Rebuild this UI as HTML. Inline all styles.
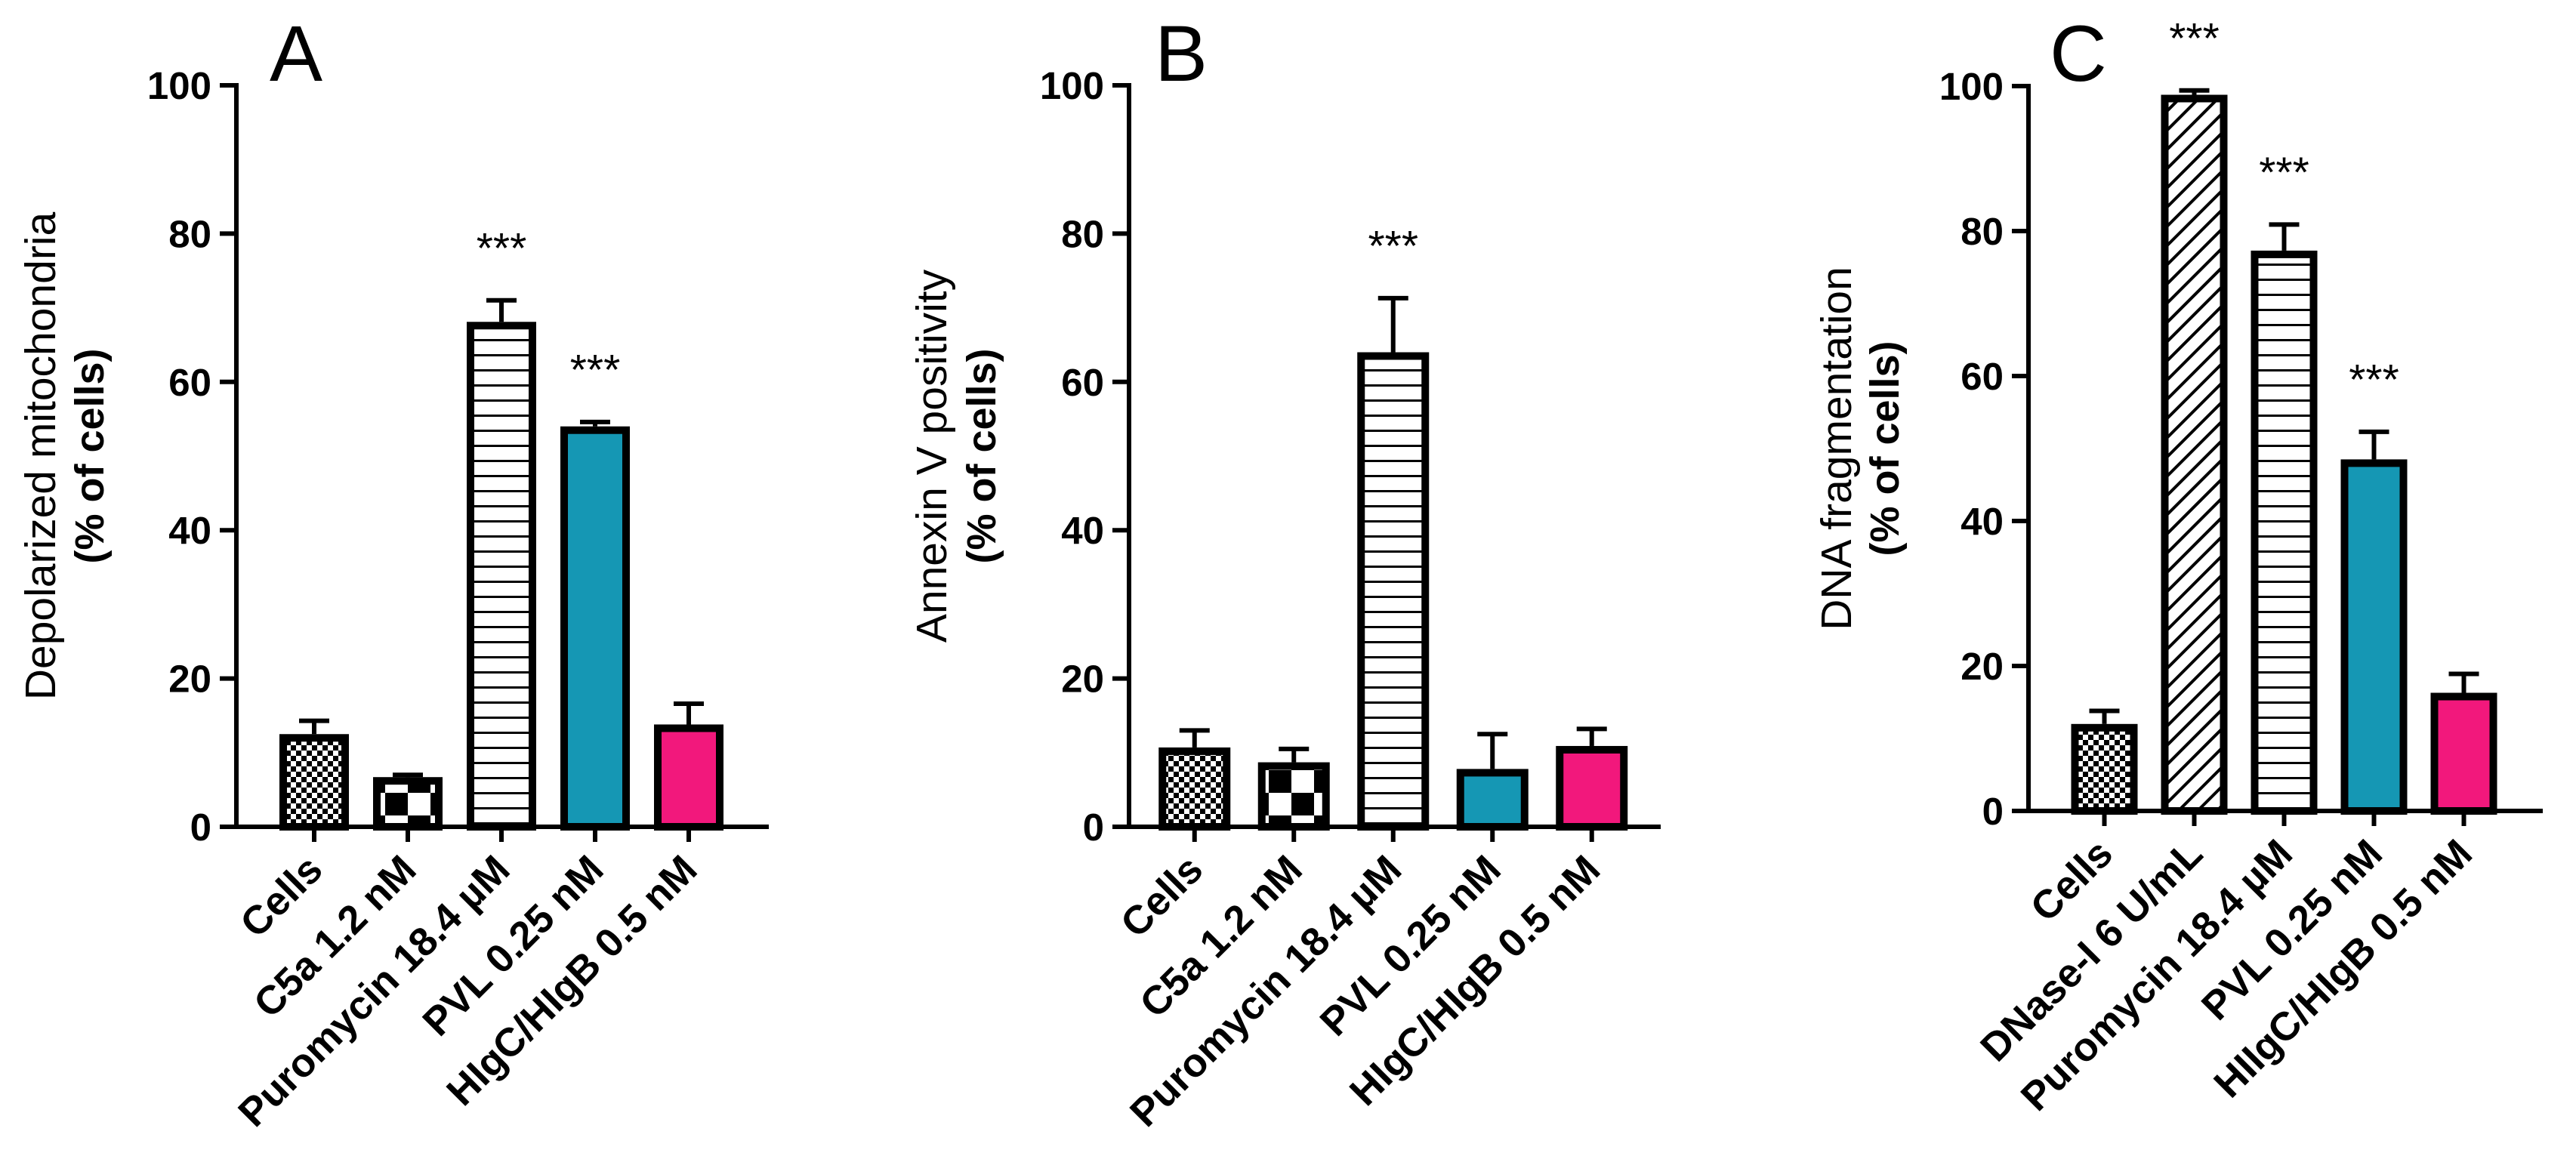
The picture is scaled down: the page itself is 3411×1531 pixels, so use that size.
<!DOCTYPE html>
<html><head><meta charset="utf-8"><style>
html,body{margin:0;padding:0;background:#fff;}
svg{display:block;font-family:"Liberation Sans",Arial,sans-serif;}
</style></head><body>
<svg id="fig" width="3411" height="1531" viewBox="0 0 3411 1531" xmlns="http://www.w3.org/2000/svg">
<defs>
<pattern id="pFine" width="14" height="14" patternUnits="userSpaceOnUse"><rect width="14" height="14" fill="#fff"/><rect width="7" height="7" fill="#000"/><rect x="7" y="7" width="7" height="7" fill="#000"/></pattern>
<pattern id="pCoarse" width="60" height="60" patternUnits="userSpaceOnUse"><rect width="60" height="60" fill="#fff"/><rect width="30" height="30" fill="#000"/><rect x="30" y="30" width="30" height="30" fill="#000"/></pattern>
<pattern id="pHoriz" width="20" height="20" patternUnits="userSpaceOnUse"><rect width="20" height="20" fill="#fff"/><rect y="9" width="20" height="3" fill="#000"/></pattern>
<pattern id="pDiag" width="18" height="18" patternUnits="userSpaceOnUse" patternTransform="rotate(-45)"><rect width="18" height="18" fill="#fff"/><rect y="7" width="18" height="4" fill="#000"/></pattern>
</defs>
</svg>
<script>
// Panel A data
const catsA = ["Cells","C5a 1.2 nM","Puromycin 18.4 µM","PVL 0.25 nM","HIgC/HIgB 0.5 nM"];
const valsA = [12.5, 6.7, 68.1, 54.0, 13.8];
const errsA = [1.8, 0.3, 2.9, 0.6, 2.8];
const starsA = ["", "", "***", "***", ""];
// Panel B data
const catsB = ["Cells","C5a 1.2 nM","Puromycin 18.4 µM","PVL 0.25 nM","HIgC/HIgB 0.5 nM"];
const valsB = [10.7, 8.7, 64.0, 7.8, 10.9];
const errsB = [2.3, 1.8, 7.3, 4.7, 2.3];
const starsB = ["", "", "***", "", ""];
// Panel C data
const catsC = ["Cells","DNase-I 6 U/mL","Puromycin 18.4 µM","PVL 0.25 nM","HIIgC/HIgB 0.5 nM"];
const valsC = [12.0, 98.8, 77.3, 48.5, 16.3];
const errsC = [1.8, 0.6, 3.6, 3.8, 2.6];
const starsC = ["", "***", "***", "***", ""];
const yTicks = [0, 20, 40, 60, 80, 100];

const NS = "http://www.w3.org/2000/svg";
const svg = document.getElementById("fig");
function mk(tag, attrs, parent, txt) {
  const e = document.createElementNS(NS, tag);
  for (const k in attrs) e.setAttribute(k, attrs[k]);
  if (txt !== undefined) e.textContent = txt;
  (parent || svg).appendChild(e);
  return e;
}

function panel(cfg) {
  const g = mk("g", {});
  
  
  const y = v => cfg.y0 - (v / 100) * (cfg.y0 - cfg.y100);
  const x = i => cfg.x0 + (i + 0.5) * cfg.step;
  const ya = mk("line", {x1: cfg.ax, y1: y(100) - 3, x2: cfg.ax, y2: cfg.y0 + 3, stroke: "#000", "stroke-width": 6}, g);
  
  
  const xa = mk("line", {x1: cfg.ax - 22, y1: cfg.y0, x2: cfg.axEnd, y2: cfg.y0, stroke: "#000", "stroke-width": 6}, g);
  
  
  yTicks.forEach(t => {
    if (t > 0) mk("line", {x1: cfg.ax - 22, y1: y(t), x2: cfg.ax, y2: y(t), stroke: "#000", "stroke-width": 6}, g);
    const tl = mk("text", {x: cfg.ax - 33, y: y(t) + 18, "text-anchor": "end", "font-size": 51, "font-weight": "bold"}, g, String(t));
    
    
  });
  const tt = mk("text", {transform: `translate(${cfg.tx1},${cfg.ty}) rotate(-90)`, "text-anchor": "middle", "font-size": 57}, g, cfg.title);
  
  
  const tt2 = mk("text", {transform: `translate(${cfg.tx2},${cfg.ty}) rotate(-90)`, "text-anchor": "middle", "font-size": 54, "font-weight": "bold"}, g, "(% of cells)");
  
  
  const lt = mk("text", {x: cfg.lx, y: 107, "font-size": 105}, g, cfg.letter);
  
  
  cfg.cats.forEach((c, i) => {
    const cx = x(i), v = cfg.vals[i], e = cfg.errs[i];
    const bw = cfg.bw;
    const eb = mk("line", {x1: cx, y1: y(v), x2: cx, y2: y(v + e), stroke: "#000", "stroke-width": 6}, g);
    
    
    const ec = mk("line", {x1: cx - 20, y1: y(v + e), x2: cx + 20, y2: y(v + e), stroke: "#000", "stroke-width": 6}, g);
    
    
    const r = mk("rect", {x: cx - bw / 2 + 5, y: y(v) + 5, width: bw - 10, height: Math.max(0, y(0) - y(v) - 5), fill: cfg.fills[i], stroke: "#000", "stroke-width": 10}, g);
    
    
    mk("line", {x1: cx, y1: cfg.y0, x2: cx, y2: cfg.y0 + 20, stroke: "#000", "stroke-width": 6}, g);
    const xl = mk("text", {transform: `translate(${cx + 14},${cfg.y0 + 60}) rotate(-45)`, "text-anchor": "end", "font-size": 53, "font-weight": "bold"}, g, c);
    
    
    if (cfg.stars[i]) {
      const st = mk("text", {x: cx, y: y(v + e) - 50, "text-anchor": "middle", "font-size": 57}, g, cfg.stars[i]);
      
      
    }
  });
}

const fillsA = ["url(#pFine)", "url(#pCoarse)", "url(#pHoriz)", "#1597b4", "#f2187c"];
const fillsC = ["url(#pFine)", "url(#pDiag)", "url(#pHoriz)", "#1597b4", "#f2187c"];
panel({letter: "A", cats: catsA, vals: valsA, errs: errsA, stars: starsA, fills: fillsA,
  ax: 313, axEnd: 1018, y0: 1095, y100: 113, x0: 354, step: 124, bw: 92,
  title: "Depolarized mitochondria", tx1: 73, tx2: 137, ty: 604, lx: 357});
panel({letter: "B", cats: catsB, vals: valsB, errs: errsB, stars: starsB, fills: fillsA,
  ax: 1495, axEnd: 2199, y0: 1095, y100: 113, x0: 1516, step: 131.5, bw: 95,
  title: "Annexin V positivity", tx1: 1253, tx2: 1318, ty: 604, lx: 1529});
panel({letter: "C", cats: catsC, vals: valsC, errs: errsC, stars: starsC, fills: fillsC,
  ax: 2686, axEnd: 3367, y0: 1074, y100: 114, x0: 2727, step: 119, bw: 88,
  title: "DNA fragmentation", tx1: 2451, tx2: 2514, ty: 594, lx: 2714});
</script>
</body></html>
